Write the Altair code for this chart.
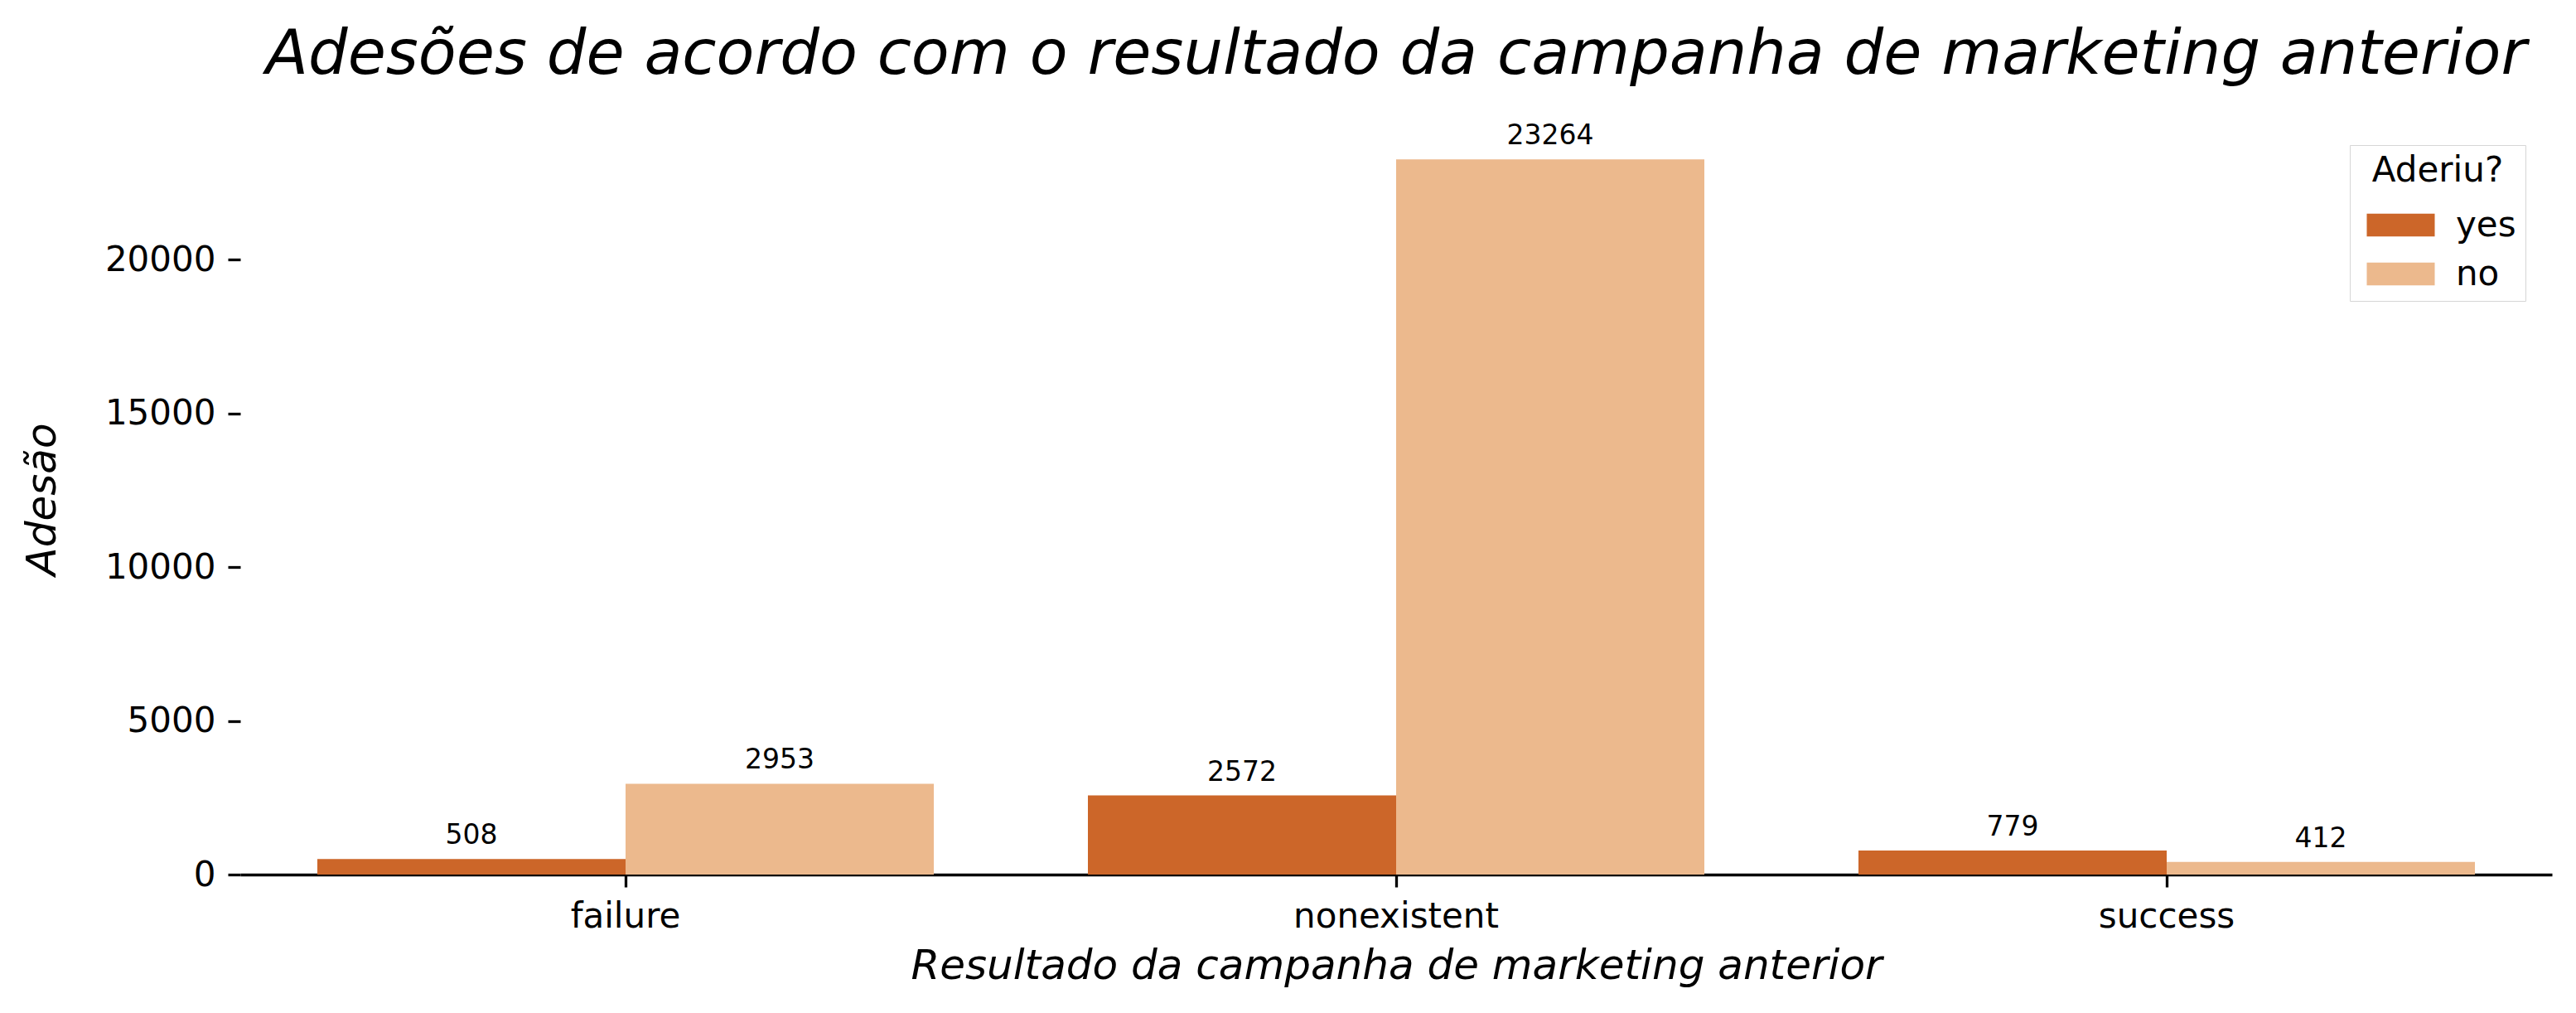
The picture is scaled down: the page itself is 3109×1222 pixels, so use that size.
import altair as alt
import pandas as pd

categories = ["failure", "nonexistent", "success"]
hues = ["yes", "no"]
yes_values = [508, 2572, 779]
no_values = [2953, 23264, 412]
y_ticks = [0, 5000, 10000, 15000, 20000]
colors = ["#cc6629", "#ecb98d"]

rows = []
for i, c in enumerate(categories):
    rows.append({"cat": c, "hue": "yes", "val": yes_values[i]})
    rows.append({"cat": c, "hue": "no", "val": no_values[i]})
df = pd.DataFrame(rows)

FONT = "DejaVu Sans"
ymax = max(no_values + yes_values) * 1.05

x_enc = alt.X(
    "cat:N",
    sort=categories,
    scale=alt.Scale(paddingInner=0.2, paddingOuter=0.1),
    axis=alt.Axis(
        title="Resultado da campanha de marketing anterior",
        labelAngle=0,
        labelFontSize=42,
        labelFont=FONT,
        labelColor="black",
        labelPadding=15,
        labelLimit=2000,
        tickSize=15,
        tickWidth=3.3,
        tickColor="black",
        domainColor="black",
        domainWidth=3.3,
        titleFont=FONT,
        titleFontSize=50,
        titleFontStyle="italic",
        titleFontWeight="normal",
        titleColor="black",
        titlePadding=14,
        grid=False,
    ),
)
xoff_enc = alt.XOffset(
    "hue:N", sort=hues, scale=alt.Scale(domain=hues, paddingInner=0, paddingOuter=0)
)
y_enc = alt.Y(
    "val:Q",
    scale=alt.Scale(domain=[0, ymax], nice=False, zero=True),
    axis=alt.Axis(
        title="Adesão",
        values=y_ticks,
        format="d",
        domain=False,
        grid=False,
        labelFontSize=42,
        labelFont=FONT,
        labelColor="black",
        labelPadding=15,
        tickSize=15,
        tickWidth=3.3,
        tickColor="black",
        titleFont=FONT,
        titleFontSize=50,
        titleFontStyle="italic",
        titleFontWeight="normal",
        titleColor="black",
        titlePadding=50,
    ),
)

legend = alt.Legend(
    title="Aderiu?",
    orient="none",
    legendX=2546,
    legendY=26,
    symbolType="M-1.5,-0.5H1.5V0.5H-1.5Z",
    symbolSize=2990,
    symbolStrokeWidth=0,
    symbolOpacity=1,
    symbolOffset=23,
    labelOffset=39,
    labelFontSize=42,
    labelFont=FONT,
    labelColor="black",
    titleFontSize=42,
    titleFont=FONT,
    titleFontWeight="normal",
    titleColor="black",
    titleAnchor="middle",
    titlePadding=16,
    rowPadding=10,
    padding=11,
    fillColor="white",
    strokeColor="#d6d6d6",
)

bars = alt.Chart(df).mark_bar().encode(
    x=x_enc,
    xOffset=xoff_enc,
    y=y_enc,
    color=alt.Color("hue:N", sort=hues, scale=alt.Scale(domain=hues, range=colors), legend=legend),
)

labels = alt.Chart(df).mark_text(
    font=FONT, fontSize=33, color="black", baseline="alphabetic", dy=-18
).encode(
    x=alt.X("cat:N", sort=categories),
    xOffset=alt.XOffset("hue:N", sort=hues),
    y=alt.Y("val:Q"),
    text=alt.Text("val:Q", format="d"),
)

chart = (
    alt.layer(bars, labels)
    .properties(
        width=2790,
        height=906,
        view=alt.ViewBackground(stroke="transparent", strokeWidth=0, strokeOpacity=0),
        autosize=alt.AutoSizeParams(type="none"),
        padding={"left": 290, "top": 149, "right": 29, "bottom": 167},
        title=alt.TitleParams(
            text="Adesões de acordo com o resultado da campanha de marketing anterior",
            font=FONT,
            fontSize=75,
            fontStyle="italic",
            fontWeight="normal",
            color="black",
            anchor="middle",
            baseline="alphabetic",
            offset=56,
            dy=72,
        ),
    )
    .configure_view(stroke="transparent", strokeWidth=0, strokeOpacity=0)
    .configure_legend(strokeWidth=3, cornerRadius=8)
    .configure(background="white")
)

chart.save("out.html", embed_options={"renderer": "svg", "actions": False})
